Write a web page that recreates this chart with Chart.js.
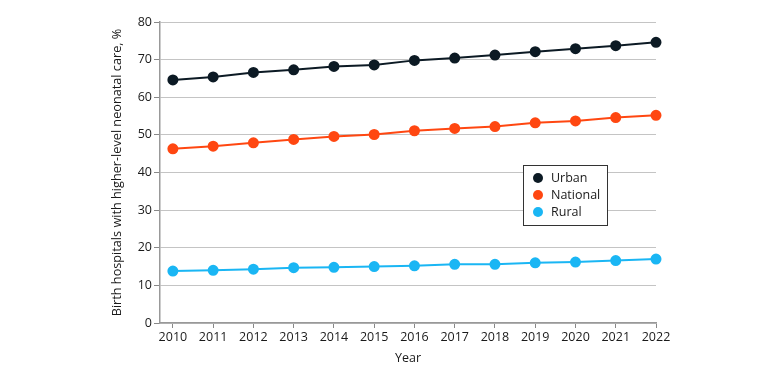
<!DOCTYPE html>
<html>
<head>
<meta charset="utf-8">
<script src="https://cdn.jsdelivr.net/npm/chart.js@4.4.1/dist/chart.umd.min.js"></script>
<style>
  html, body { margin: 0; padding: 0; background: #fff; }
  #wrap { width: 780px; height: 378px; position: relative; }
</style>
</head>
<body>
<div id="wrap"><canvas id="line-chart"></canvas></div>
<script>
// data
var years = [2010, 2011, 2012, 2013, 2014, 2015, 2016, 2017, 2018, 2019, 2020, 2021, 2022];
var urban = [64.6, 65.4, 66.6, 67.3, 68.2, 68.6, 69.8, 70.4, 71.2, 72.1, 72.9, 73.7, 74.6];
var national = [46.3, 47.0, 47.9, 48.8, 49.6, 50.1, 51.1, 51.7, 52.2, 53.2, 53.7, 54.6, 55.2];
var rural = [13.8, 14.0, 14.3, 14.7, 14.8, 15.0, 15.2, 15.6, 15.6, 16.0, 16.2, 16.6, 17.0];
var yTicks = [0, 10, 20, 30, 40, 50, 60, 70, 80];

var fontFamily = "'Open Sans', sans-serif";
Chart.defaults.font.family = fontFamily;
Chart.defaults.font.size = 12.5;
Chart.defaults.color = "#1a1a1a";

function toPoints(vals) {
  return vals.map(function(v, i) { return { x: years[i], y: v }; });
}

function series(label, color, vals) {
  return {
    label: label,
    data: toPoints(vals),
    borderColor: color,
    backgroundColor: color,
    pointBackgroundColor: color,
    pointBorderColor: color,
    borderWidth: 2,
    pointRadius: 4.5,
    pointHoverRadius: 4.5,
    clip: false,
    tension: 0
  };
}

//boxed legend inside the plot
var boxLegend = {
  id: "boxLegend",
  afterDraw: function(chart) {
    var ctx = chart.ctx;
    var x = 523, y = 165, w = 84, h = 60;
    ctx.save();
    ctx.fillStyle = "#fff";
    ctx.fillRect(x, y, w, h);
    ctx.strokeStyle = "#333";
    ctx.lineWidth = 1;
    ctx.strokeRect(x + 0.5, y + 0.5, w, h);
    ctx.font = "12.5px " + fontFamily;
    ctx.textBaseline = "middle";
    chart.data.datasets.forEach(function(ds, i) {
      var cy = y + 13 + i * 17;
      ctx.fillStyle = ds.borderColor;
      ctx.beginPath();
      ctx.arc(x + 15, cy, 5, 0, Math.PI * 2);
      ctx.fill();
      ctx.fillStyle = "#1a1a1a";
      ctx.fillText(ds.label, x + 28, cy);
    });
    ctx.restore();
  }
};

new Chart("line-chart", {
  type: "line",
  data: {
    datasets: [
      series("Urban", "#0c1a24", urban),
      series("National", "#ff4711", national),
      series("Rural", "#1ab6f4", rural)
    ]
  },
  plugins: [boxLegend],
  options: {
    responsive: true,
    maintainAspectRatio: false,
    animation: false,
    layout: {
      padding: { left: 105, right: 124, top: 22, bottom: 0 }
    },
    plugins: {
      legend: { display: false },
      tooltip: { enabled: false }
    },
    scales: {
      x: {
        type: "linear",
        min: 2009.68,
        max: 2022,
        afterBuildTicks: function(scale) {
          scale.ticks = years.map(function(v) { return { value: v }; });
        },
        afterFit: function(scale) {
          scale.height = 55;
        },
        ticks: {
          autoSkip: false,
          maxRotation: 0,
          padding: 2,
          callback: function(v) { return String(v); }
        },
        grid: {
          display: true,
          drawOnChartArea: false,
          drawTicks: true,
          tickLength: 5,
          color: "#888"
        },
        border: { display: true, color: "#999", width: 1.5 },
        title: {
          display: true,
          text: "Year",
          padding: { top: 0, bottom: 12 }
        }
      },
      y: {
        min: 0,
        max: 80,
        afterBuildTicks: function(scale) {
          scale.ticks = yTicks.map(function(v) { return { value: v }; });
        },
        afterFit: function(scale) {
          scale.width = 55;
        },
        ticks: {
          padding: 2
        },
        grid: {
          color: "#c4c4c4",
          lineWidth: 1,
          tickLength: 6,
          tickColor: "#888"
        },
        border: { display: true, color: "#999", width: 1.5 },
        title: {
          display: true,
          text: "Birth hospitals with higher-level neonatal care, %",
          font: { size: 12.7 },
          padding: { top: 5, bottom: 0 }
        }
      }
    }
  }
});
</script>
</body>
</html>
